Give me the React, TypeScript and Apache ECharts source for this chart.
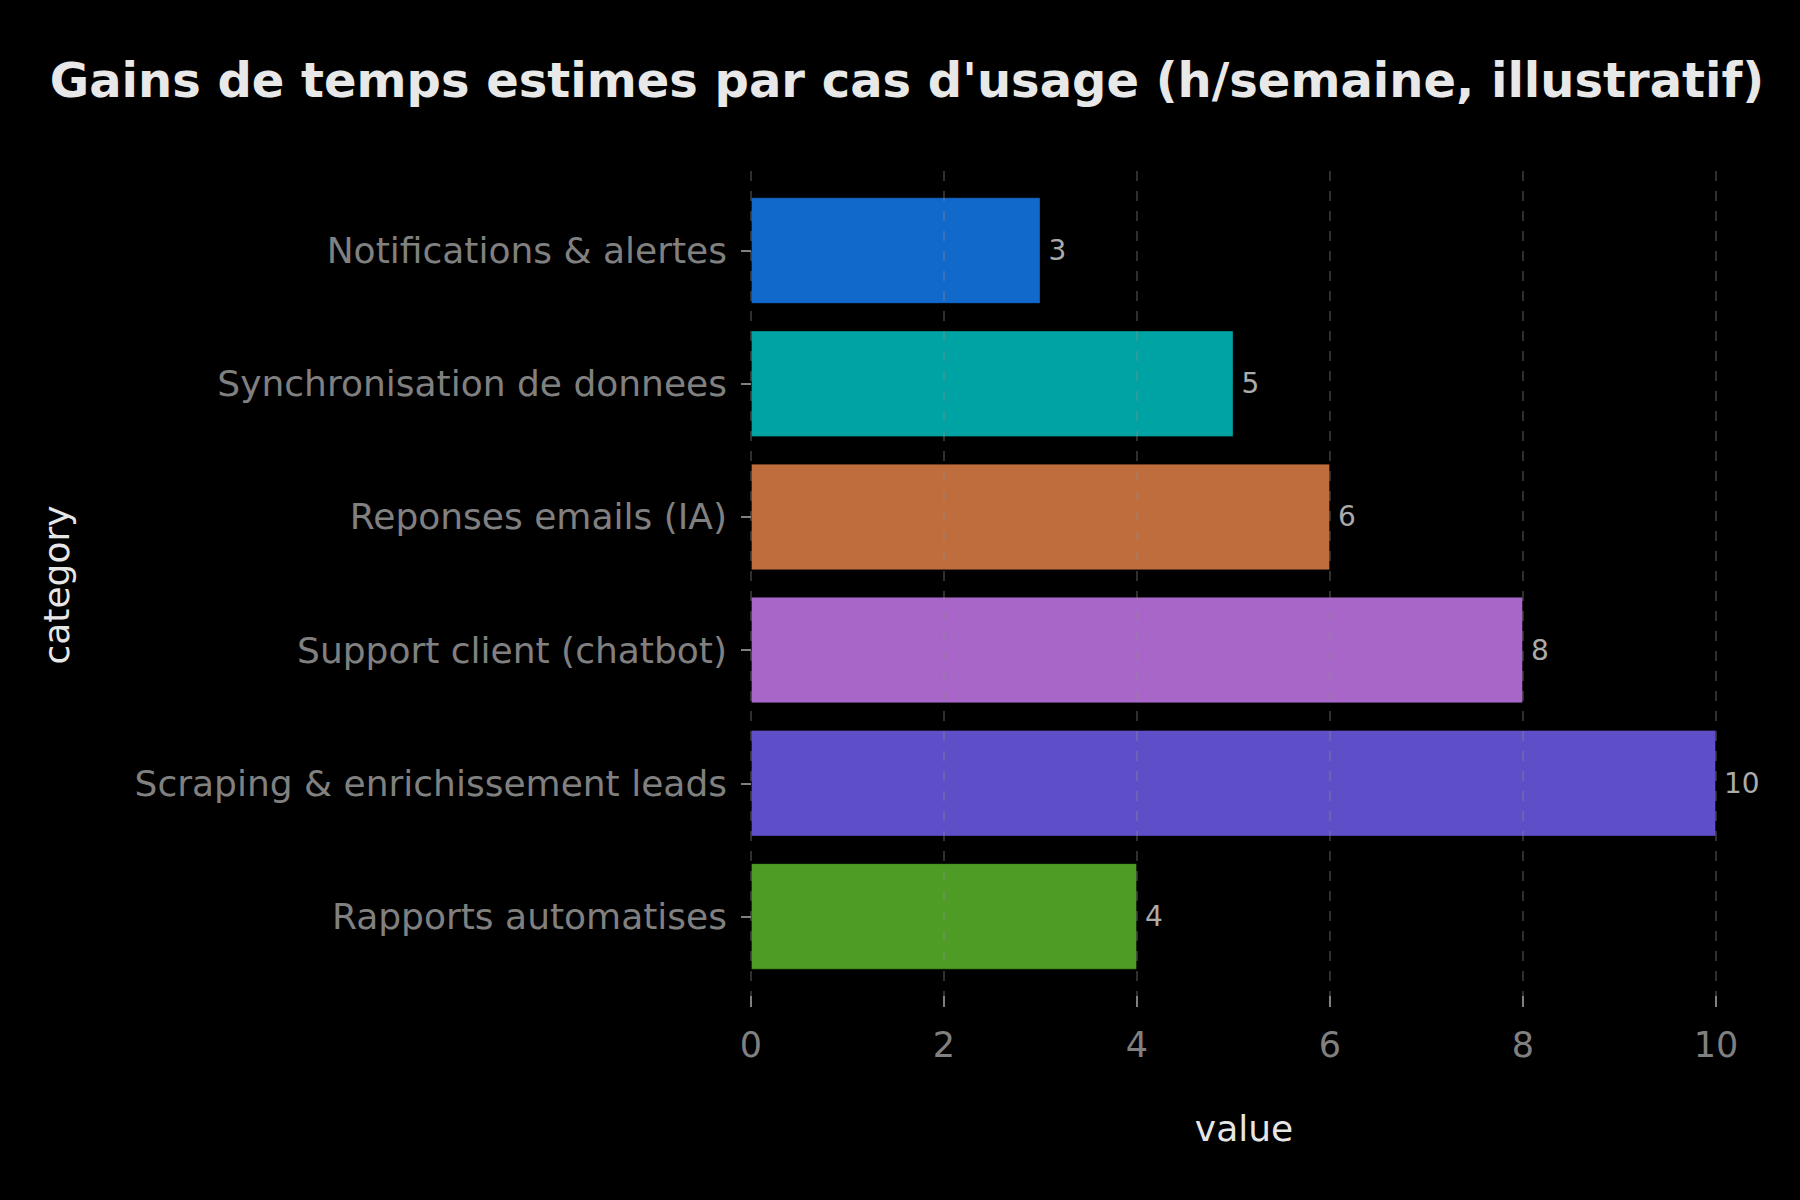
import React, { useEffect, useRef } from "react";
import * as echarts from "echarts";

const categories = [
  "Notifications & alertes",
  "Synchronisation de donnees",
  "Reponses emails (IA)",
  "Support client (chatbot)",
  "Scraping & enrichissement leads",
  "Rapports automatises",
];
const values = [3, 5, 6, 8, 10, 4];
const barColors = ["#1269CC", "#00A3A3", "#C06D3E", "#A866C9", "#5E4FC9", "#4E9C26"];
const xTicks = [0, 2, 4, 6, 8, 10];

const FONT = "DejaVu Sans";

export default function App() {
  const ref = useRef<HTMLDivElement>(null);
  useEffect(() => {
    document.body.style.margin = "0";
    document.body.style.background = "#000";
    const chart = echarts.init(ref.current!, null, { renderer: "svg" });
    const xMin = xTicks[0];
    const xMax = xTicks[xTicks.length - 1];
    const xInt = xTicks[1] - xTicks[0];
    chart.setOption({
      animation: false,
      backgroundColor: "#000000",
      textStyle: { fontFamily: FONT },
      title: {
        text: "Gains de temps estimes par cas d'usage (h/semaine, illustratif)",
        left: 902,
        textAlign: "center",
        top: 51,
        textStyle: { color: "#e8e8e8", fontSize: 48, fontWeight: "bold", fontFamily: FONT },
      },
      graphic: [
        {
          type: "text",
          x: 1244,
          y: 1128,
          style: {
            text: "value",
            fill: "#e6e6e6",
            font: `36px "${FONT}"`,
            textAlign: "center",
            textVerticalAlign: "middle",
          },
        },
        {
          type: "text",
          x: 56,
          y: 585,
          rotation: Math.PI / 2,
          style: {
            text: "category",
            fill: "#e6e6e6",
            font: `36px "${FONT}"`,
            textAlign: "center",
            textVerticalAlign: "middle",
          },
        },
      ],
      grid: [
        { left: 751, right: 84, top: 171, bottom: 204 },
        { left: 751, right: 84, top: 184, bottom: 217 },
      ],
      xAxis: [
        {
          type: "value",
          gridIndex: 0,
          min: xMin,
          max: xMax,
          interval: xInt,
          z: 10,
          axisLine: { show: false },
          axisTick: { show: true, length: 11, lineStyle: { color: "#808080", width: 2 } },
          axisLabel: { color: "#808080", fontSize: 35, margin: 31, fontFamily: FONT },
          splitLine: {
            show: true,
            lineStyle: { color: "rgba(140,140,140,0.45)", type: [10, 10], width: 1.5 },
          },
        },
        {
          type: "value",
          gridIndex: 1,
          min: xMin,
          max: xMax,
          interval: xInt,
          show: false,
          splitLine: { show: false },
        },
      ],
      yAxis: [
        { type: "value", gridIndex: 0, show: false, splitLine: { show: false } },
        {
          type: "category",
          gridIndex: 1,
          data: categories,
          inverse: true,
          axisLine: { show: false },
          axisTick: { show: true, alignWithLabel: true, length: 10, lineStyle: { color: "#808080", width: 2 } },
          axisLabel: { color: "#808080", fontSize: 36, margin: 24, fontFamily: FONT },
          splitLine: { show: false },
        },
      ],
      series: [
        {
          type: "bar",
          xAxisIndex: 1,
          yAxisIndex: 1,
          barWidth: "80%",
          data: values.map((v, i) => ({
            value: v,
            itemStyle: { color: barColors[i], borderColor: "rgba(0,0,0,0.35)", borderWidth: 1 },
          })),
          label: {
            show: true,
            position: "right",
            distance: 8,
            color: "#ababab",
            fontSize: 28,
            fontFamily: FONT,
          },
        },
      ],
    });
    return () => chart.dispose();
  }, []);
  return <div ref={ref} style={{ width: 1800, height: 1200, background: "#000" }} />;
}
